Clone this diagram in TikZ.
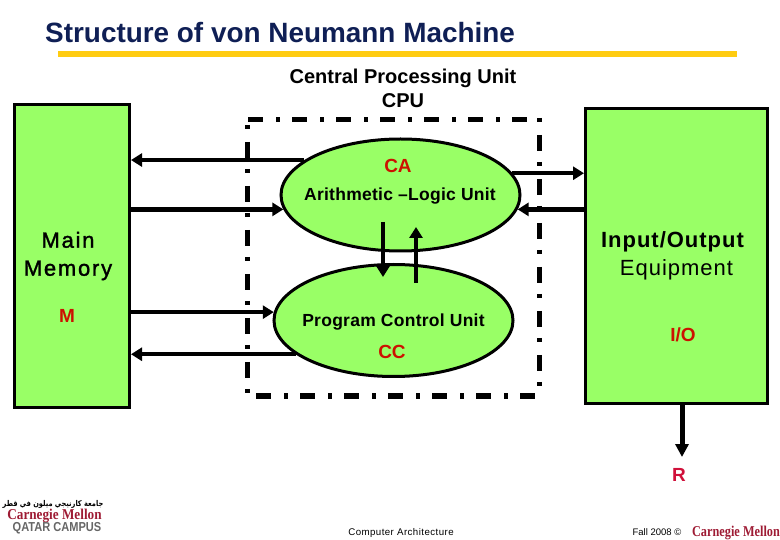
\documentclass[tikz,border=0pt]{standalone}
\usepackage{fontspec}
\setmainfont{Liberation Sans}
\newfontfamily\spaced[LetterSpace=4.5]{Liberation Sans}
\newfontfamily\tightsp[LetterSpace=1.5]{Liberation Sans}
\newfontfamily\medfont[LetterSpace=8,FakeBold=1.5]{Liberation Sans}
\newfontfamily\cmuserif{Liberation Serif}
\newfontfamily\arabicfont[Script=Arabic]{DejaVu Sans}
\TeXXeTstate=1
\usetikzlibrary{shapes.geometric,arrows.meta}
\definecolor{boxgreen}{HTML}{99FF66}
\definecolor{capred}{HTML}{CC1100}
\definecolor{rred}{HTML}{D0103A}
\definecolor{titleblue}{HTML}{0F1F55}
\definecolor{rulegold}{HTML}{FFCC11}
\definecolor{cmured}{HTML}{9E1B34}
\definecolor{qgray}{HTML}{666666}
\tikzset{
  x=1pt,y=-1pt,
  greenbox/.style={draw=black,line width=3pt,fill=boxgreen,rectangle,inner sep=0pt,anchor=north west},
  unit/.style={draw=black,line width=3pt,fill=boxgreen,ellipse,inner sep=0pt,minimum width=239pt,minimum height=112pt},
  arr/.style={line width=4.4pt,-{Triangle[length=11pt,width=13pt]}},
  lbl/.style={inner sep=0pt,align=center,text=black},
  caplbl/.style={inner sep=0pt,text=capred,font=\fontsize{19}{22}\selectfont\bfseries},
  cpuline/.style={draw=black,line width=5pt},
  longfirst/.style={dash pattern=on 15pt off 13pt on 4pt off 12pt},
  dotfirst/.style={dash pattern=on 4pt off 13pt on 16pt off 11pt},
  foot/.style={inner sep=0pt,font=\fontsize{9.5}{11}\selectfont}
}
\begin{document}
\begin{tikzpicture}
\useasboundingbox (0,0) rectangle (780,540);
\node[inner sep=0pt,anchor=base west,text=titleblue] (title) at (45,43) {\fontsize{27.9}{30}\selectfont\bfseries Structure of von Neumann Machine};
\fill[rulegold] (58,51) rectangle (737,57);
\node[lbl,font=\fontsize{20}{24}\selectfont\bfseries] (cpulabel) at (403,88) {Central Processing Unit\\CPU};
\draw[cpuline,longfirst] (248,120) -- (530,120);
\draw[cpuline,longfirst] (256,396) -- (537,396);
\draw[cpuline,dotfirst] (247,125) -- (247,394);
\draw[cpuline,dotfirst] (539,118) -- (539,387);
\node[greenbox,minimum width=115pt,minimum height=303pt] (mem) at (13,103) {};
\node[greenbox,minimum width=182pt,minimum height=294pt] (io) at (584,107.5) {};
\node[unit] (ca) at (400.5,195) {};
\node[unit] (cc) at (393.5,320.5) {};
\coordinate (dn1) at (383,222);
\coordinate (dn2) at (383,277);
\coordinate (up1) at (416,283);
\coordinate (up2) at (416,227);
\coordinate (r) at (682,457);
\draw[arr] (ca.160.5) -- (mem.east |- ca.160.5);
\draw[arr] (mem.east |- ca.187.3) -- (ca.187.3);
\draw[arr] (ca.11) -- (io.west |- ca.11);
\draw[arr] (io.west |- ca.-7.3) -- (ca.-7.3);
\draw[arr] (dn1) -- (dn2);
\draw[arr] (up1) -- (up2);
\draw[arr] (mem.east |- cc.176) -- (cc.176);
\draw[arr] (cc.199) -- (mem.east |- cc.199);
\draw[arr,line width=5pt,-{Triangle[length=13pt,width=13pt]}] (io.south -| r) -- (r);
\node[caplbl] (calabel) at (398,166) {CA};
\node[lbl,font=\tightsp\fontsize{17.5}{20}\selectfont\bfseries] (alu) at (400,196) {Arithmetic –Logic Unit};
\node[lbl,font=\tightsp\fontsize{17.5}{20}\selectfont\bfseries] (pcu) at (393.5,322) {Program Control Unit};
\node[caplbl] (cclabel) at (392,352) {CC};
\node[lbl,font=\medfont\fontsize{22}{28}\selectfont] (mmlabel) at (68,256) {Main\\Memory};
\node[caplbl] (mlabel) at (67,316) {M};
\node[lbl,font=\spaced\fontsize{22}{28}\selectfont\bfseries] (iolabel) at (672.5,242) {Input/Output};
\node[lbl,font=\spaced\fontsize{22}{28}\selectfont] (eqlabel) at (676.5,270) {Equipment};
\node[caplbl] (iol) at (683,335) {I/O};
\node[caplbl,text=rred] (rlabel) at (679,475) {R};
\node[foot,font=\spaced\fontsize{9.7}{11}\selectfont] (arch) at (401,532.5) {Computer Architecture};
\node[foot] (fall) at (657,532.5) {Fall 2008 ©};
\node[inner sep=0pt,text=cmured] (cmu2) at (736,533) {\scalebox{0.82}[1]{\cmuserif\fontsize{15}{16}\selectfont\bfseries Carnegie Mellon}};
\node[inner sep=0pt,text=black] (ar) at (53,504.5) {\scalebox{0.83}[1]{\arabicfont\fontsize{8}{9}\selectfont\bfseries\beginR جامعة كارنيجي ميلون في قطر\endR}};
\node[inner sep=0pt,text=cmured] (cmu1) at (54.5,515.5) {\scalebox{0.88}[1]{\cmuserif\fontsize{15}{15}\selectfont\bfseries Carnegie Mellon}};
\node[inner sep=0pt,text=qgray] (qc) at (57,528.5) {\scalebox{0.85}[1]{\fontsize{13}{13}\selectfont\bfseries QATAR CAMPUS}};
\end{tikzpicture}
\end{document}
